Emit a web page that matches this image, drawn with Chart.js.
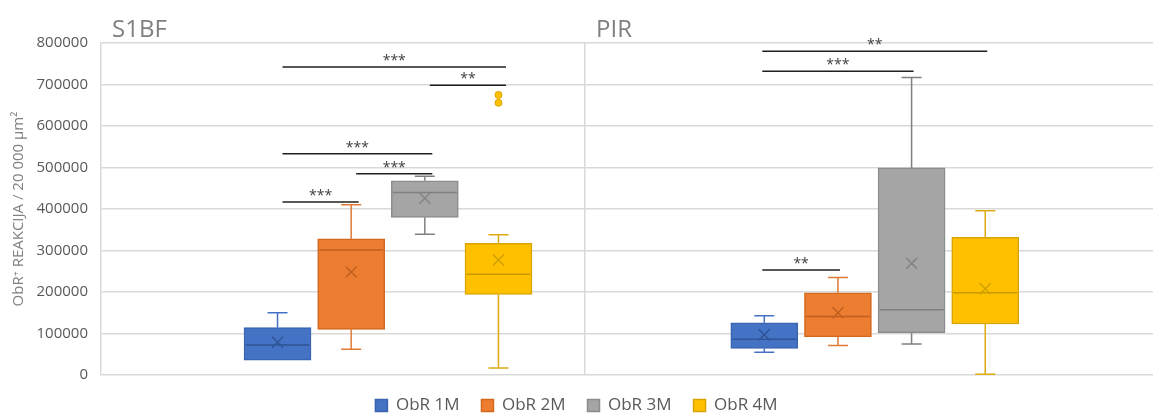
<!DOCTYPE html>
<html>
<head>
<meta charset="utf-8">
<script src="https://cdn.jsdelivr.net/npm/chart.js@4.4.1/dist/chart.umd.min.js"></script>
<style>
  html, body { margin: 0; padding: 0; background: #ffffff; overflow: hidden; }
  canvas { display: block; }
</style>
</head>
<body>
<canvas id="chart" width="1153" height="414"></canvas>
<script>
// ---- data -------------------------------------------------------------
const CATEGORIES = ['S1BF', 'PIR'];
const SERIES = ['ObR 1M', 'ObR 2M', 'ObR 3M', 'ObR 4M'];

// one row per series, values for [S1BF, PIR]
const WHISKER_LOW  = [[36000, 55000], [62000, 71000], [339000, 75000], [17000, 2000]];
const Q1           = [[36000, 64000], [110000, 92000], [380000, 102000], [194000, 123000]];
const MEDIAN       = [[72000, 86000], [301000, 141000], [440000, 157000], [243000, 198000]];
const Q3           = [[114000, 126000], [328000, 198000], [468000, 499000], [317000, 332000]];
const WHISKER_HIGH = [[150000, 143000], [410000, 235000], [479000, 717000], [338000, 396000]];
const MEAN         = [[79000, 97000], [248000, 150000], [426000, 269000], [277000, 208000]];
const OUTLIERS     = [[[], []], [[], []], [[], []], [[656000, 675000], []]];

// significance brackets: category, first series, last series, level, stars
const SIG_CATEGORY = [0, 0, 0, 0, 0, 1, 1, 1];
const SIG_FROM     = [0, 2, 0, 1, 0, 0, 0, 0];
const SIG_TO       = [3, 3, 2, 2, 1, 3, 2, 1];
const SIG_LEVEL    = [742000, 698000, 533000, 485000, 417000, 780000, 732000, 253000];
const SIG_STARS    = ['***', '**', '***', '***', '***', '**', '***', '**'];

const Y_TICKS = [0, 100000, 200000, 300000, 400000, 500000, 600000, 700000, 800000];
const Y_TITLE = 'ObR\u207A REAKCIJA / 20 000 \u00B5m\u00B2';

// ---- layout & style ---------------------------------------------------
const FONT = "'Open Sans', 'Noto Sans', sans-serif";
const SLOT = 0.1513;          // distance between neighbouring boxes (x units)
const X_MIN = -0.5896, X_MAX = 1.5716, DIVIDER = 0.4047;
const BRACKET_SHIFT = [[5, 7.5], [-2, 2]];  // px nudges of bracket ends per panel

const STYLE = [
  { fill: '#4472C4', border: '#3A64B0', whisker: '#4472C4', median: '#2F5597', mean: '#2F5597' },
  { fill: '#ED7D31', border: '#D2691F', whisker: '#E07A35', median: '#C0601F', mean: '#C0601F' },
  { fill: '#A5A5A5', border: '#8C8C8C', whisker: '#808080', median: '#7F7F7F', mean: '#858585' },
  { fill: '#FFC000', border: '#D9A400', whisker: '#DDAA10', median: '#C89A00', mean: '#D0A000' }
];

const boxX = (c, s) => c + (s - 1.5) * SLOT;

const datasets = SERIES.map((name, s) => ({
  label: name,
  data: CATEGORIES.map((cat, c) => ({ x: boxX(c, s), y: [Q1[s][c], Q3[s][c]] })),
  backgroundColor: STYLE[s].fill,
  borderColor: STYLE[s].border,
  borderWidth: 1.5,
  borderSkipped: false,
  barThickness: 67,
  grouped: false
}));

// whiskers, medians, means and outliers on top of the boxes
const boxExtras = {
  id: 'boxExtras',
  afterDatasetsDraw(chart) {
    const { ctx } = chart;
    const y = chart.scales.y;
    ctx.save();
    ctx.lineWidth = 1.5;
    SERIES.forEach((name, s) => {
      const st = STYLE[s];
      const meta = chart.getDatasetMeta(s);
      CATEGORIES.forEach((cat, c) => {
        const bar = meta.data[c];
        const { x: cx, width } = bar.getProps(['x', 'width'], true);
        const half = width / 2;
        const cap = 10;
        ctx.strokeStyle = st.whisker;
        const yq1 = y.getPixelForValue(Q1[s][c]);
        const yq3 = y.getPixelForValue(Q3[s][c]);
        const ylo = y.getPixelForValue(WHISKER_LOW[s][c]);
        const yhi = y.getPixelForValue(WHISKER_HIGH[s][c]);
        ctx.beginPath();
        if (WHISKER_HIGH[s][c] > Q3[s][c]) {
          ctx.moveTo(cx, yq3); ctx.lineTo(cx, yhi);
          ctx.moveTo(cx - cap, yhi); ctx.lineTo(cx + cap, yhi);
        }
        if (WHISKER_LOW[s][c] < Q1[s][c]) {
          ctx.moveTo(cx, yq1); ctx.lineTo(cx, ylo);
          ctx.moveTo(cx - cap, ylo); ctx.lineTo(cx + cap, ylo);
        }
        ctx.stroke();
        // median
        const ym = y.getPixelForValue(MEDIAN[s][c]);
        ctx.strokeStyle = st.median;
        ctx.beginPath();
        ctx.moveTo(cx - half + 1.5, ym); ctx.lineTo(cx + half - 1.5, ym);
        ctx.stroke();
        // mean marker
        const ymean = y.getPixelForValue(MEAN[s][c]);
        const r = 5.5;
        ctx.strokeStyle = st.mean;
        ctx.beginPath();
        ctx.moveTo(cx - r, ymean - r); ctx.lineTo(cx + r, ymean + r);
        ctx.moveTo(cx + r, ymean - r); ctx.lineTo(cx - r, ymean + r);
        ctx.stroke();
        // outliers
        OUTLIERS[s][c].forEach(v => {
          ctx.beginPath();
          ctx.arc(cx, y.getPixelForValue(v), 3.5, 0, Math.PI * 2);
          ctx.fillStyle = st.fill;
          ctx.fill();
          ctx.strokeStyle = st.border;
          ctx.lineWidth = 1;
          ctx.stroke();
          ctx.lineWidth = 1.5;
        });
      });
    });
    ctx.restore();
  }
};

// significance brackets and panel titles
const annotations = {
  id: 'annotations',
  afterDraw(chart) {
    const { ctx, chartArea } = chart;
    const x = chart.scales.x, y = chart.scales.y;
    ctx.save();
    SIG_LEVEL.forEach((level, i) => {
      const c = SIG_CATEGORY[i];
      const x1 = x.getPixelForValue(boxX(c, SIG_FROM[i])) + BRACKET_SHIFT[c][0];
      const x2 = x.getPixelForValue(boxX(c, SIG_TO[i])) + BRACKET_SHIFT[c][1];
      const yy = y.getPixelForValue(level);
      ctx.strokeStyle = '#1F1F1F';
      ctx.lineWidth = 1.5;
      ctx.beginPath();
      ctx.moveTo(x1, yy); ctx.lineTo(x2, yy);
      ctx.stroke();
      ctx.fillStyle = '#404040';
      ctx.font = '14px ' + FONT;
      ctx.textAlign = 'center';
      ctx.textBaseline = 'alphabetic';
      ctx.fillText(SIG_STARS[i], (x1 + x2) / 2, yy - 2);
    });
    ctx.fillStyle = '#808080';
    ctx.font = '24px ' + FONT;
    ctx.textAlign = 'left';
    ctx.textBaseline = 'alphabetic';
    CATEGORIES.forEach((cat, c) => {
      const left = c === 0 ? chartArea.left : x.getPixelForValue(DIVIDER);
      ctx.fillText(cat, left + 11, 37);
    });
    ctx.restore();
  }
};

new Chart(document.getElementById('chart'), {
  type: 'bar',
  data: { datasets },
  plugins: [boxExtras, annotations],
  options: {
    responsive: false,
    animation: false,
    layout: { padding: { top: 43, left: 0, right: 0, bottom: -10 } },
    plugins: {
      tooltip: { enabled: false },
      legend: {
        position: 'bottom',
        labels: {
          boxWidth: 12,
          boxHeight: 12,
          padding: 22,
          color: '#595959',
          font: { family: FONT, size: 17, lineHeight: 1 }
        }
      }
    },
    scales: {
      x: {
        type: 'linear',
        offset: false,
        min: X_MIN,
        max: X_MAX,
        afterBuildTicks: scale => { scale.ticks = [{ value: DIVIDER }]; },
        afterFit: scale => { scale.paddingLeft = 0; scale.paddingRight = 0; },
        ticks: { display: false },
        grid: { color: '#D9D9D9', lineWidth: 1.5, drawTicks: false, offset: false },
        border: { display: false }
      },
      y: {
        min: 0,
        max: 800000,
        afterBuildTicks: scale => { scale.ticks = Y_TICKS.map(v => ({ value: v })); },
        afterFit: scale => { scale.width = 101; },
        ticks: {
          padding: 13,
          color: '#595959',
          font: { family: FONT, size: 15 },
          callback: v => String(v)
        },
        grid: { color: '#D9D9D9', lineWidth: 1.5, drawTicks: false },
        border: { display: true, color: '#D9D9D9', width: 1.5 },
        title: {
          display: true,
          text: Y_TITLE,
          color: '#808080',
          font: { family: FONT, size: 15 },
          padding: { top: 10, bottom: 0 }
        }
      }
    }
  }
});
</script>
</body>
</html>
